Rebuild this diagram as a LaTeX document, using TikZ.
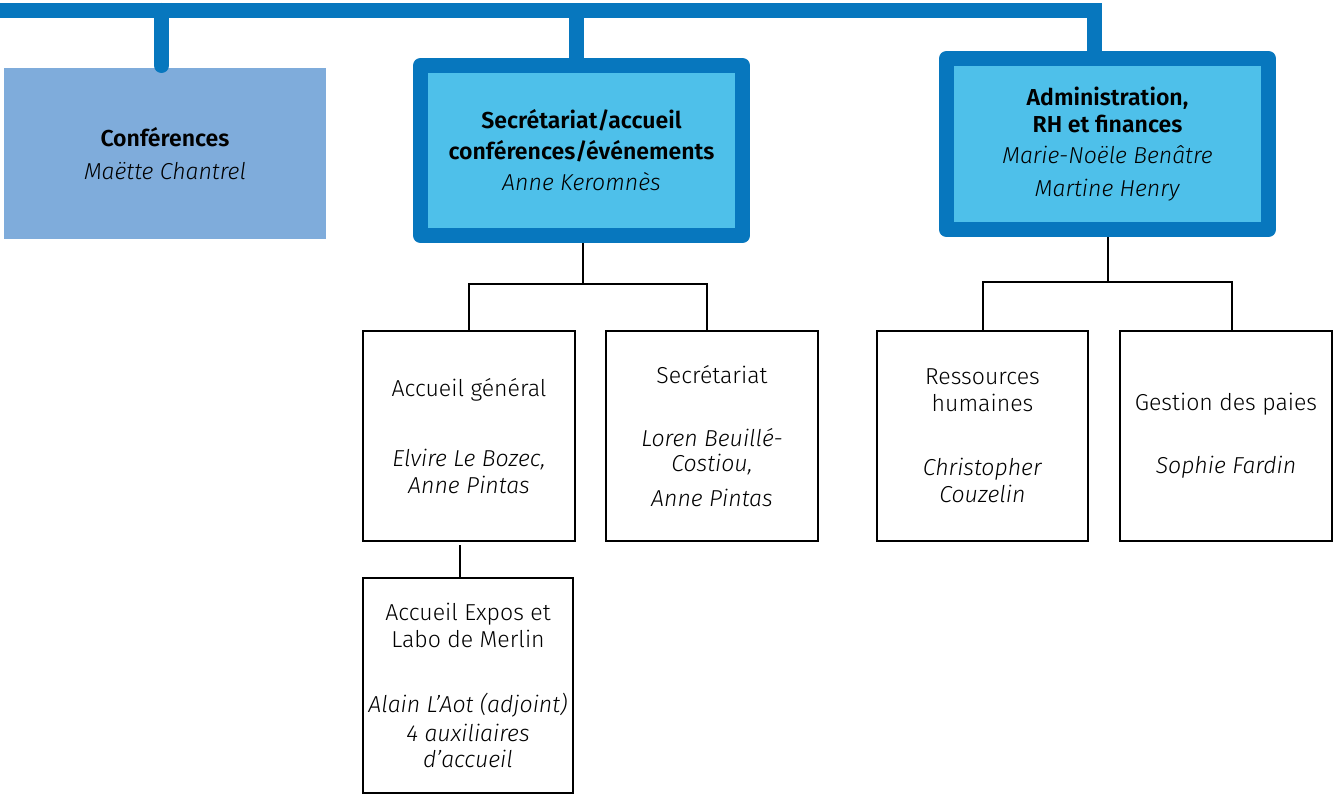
\documentclass[tikz,border=0pt]{standalone}
\usepackage{fontspec}
\setmainfont{Fira Sans}[UprightFont=* Light, ItalicFont=* Light Italic, BoldFont=* SemiBold, BoldItalicFont=* SemiBold Italic]
\usetikzlibrary{backgrounds}
\definecolor{dblue}{HTML}{0777BE}
\definecolor{lblue}{HTML}{4EC0EA}
\definecolor{cblue}{HTML}{7FACDB}
\begin{document}
\begin{tikzpicture}[x=0.75pt,y=-0.75pt,
  every node/.style={font=\fontsize{17.3}{20.25}\selectfont, align=center, inner sep=0pt, outer sep=0pt},
  mainbox/.style={draw=dblue, fill=lblue, line width=11.25pt, line join=round},
  confbox/.style={fill=cblue},
  subbox/.style={draw=black, line width=1.5pt, fill=white},
  thicklink/.style={draw=dblue, line width=11.25pt},
  thinlink/.style={draw=black, line width=1.5pt}]
\useasboundingbox (0,0) rectangle (1336,795);

% level 1
\node[confbox, minimum width=241.5pt, minimum height=128.25pt] (conf) at (165,153.5)
  {\textbf{Conférences}\\[4pt]\textit{Maëtte Chantrel}};
\node[mainbox, minimum width=241.5pt, minimum height=127.5pt] (secr) at (581.5,150.5)
  {\textbf{Secrétariat/accueil}\\[3pt]\textbf{conférences/événements}\\[3pt]\textit{Anne Keromnès}};
\node[mainbox, minimum width=241.5pt, minimum height=128.25pt] (admin) at (1107.5,144)
  {\textbf{Administration,}\\\textbf{RH et finances}\\[3pt]\textit{Marie-Noële Benâtre}\\[5pt]\textit{Martine Henry}};

% level 2
\node[subbox, minimum width=159pt, minimum height=157.5pt] (acc) at (469,436)
  {Accueil général\\[32pt]\textit{Elvire Le Bozec,}\\\textit{Anne Pintas}};
\node[subbox, minimum width=159pt, minimum height=157.5pt] (sect) at (712,436)
  {Secrétariat\\[27pt]\textit{Loren Beuillé-}\\[-1.5pt]\textit{Costiou,}\\[6pt]\textit{Anne Pintas}};
\node[subbox, minimum width=158.25pt, minimum height=157.5pt] (ress) at (982.5,436)
  {Ressources\\humaines\\[28pt]\textit{Christopher}\\\textit{Couzelin}};
\node[subbox, minimum width=159pt, minimum height=157.5pt] (gest) at (1226,436)
  {Gestion des paies\\[27pt]\textit{Sophie Fardin}};
\node[subbox, minimum width=157.5pt, minimum height=161.6pt] (expos) at (468,685.75)
  {Accueil Expos et\\Labo de Merlin\\[28pt]\textit{Alain L’Aot (adjoint)}\\[2pt]\textit{4 auxiliaires}\\[-1pt]\textit{d’accueil}};

% connectors
\coordinate (barL) at (0,10.5);
\coordinate (barR) at (1094.5,10.5);
\coordinate (jSecr) at (576,10.5);
\coordinate (jConf) at (161.5,10.5);
\coordinate (confEnd) at (161.5,65.5);
\coordinate (sj) at (583,284);
\coordinate (sectIn) at (707,331);
\coordinate (aj) at (1108,282);
\coordinate (gestIn) at (1232,331);
\coordinate (ae) at (460,545);

\begin{scope}[on background layer]
  \draw[thicklink, line join=miter] (barL) -- (barR) -- (barR |- admin.north);
  \draw[thicklink] (jSecr) -- (jSecr |- secr.north);
  \draw[thinlink] (sj) -- (sj |- secr.south);
  \draw[thinlink] (acc.north) |- (sj) -| (sectIn);
  \draw[thinlink] (aj) -- (aj |- admin.south);
  \draw[thinlink] (ress.north) |- (aj) -| (gestIn);
  \draw[thinlink] (ae) -- (ae |- expos.north);
\end{scope}
\draw[thicklink, line cap=round] (jConf) -- (confEnd);
\end{tikzpicture}
\end{document}
